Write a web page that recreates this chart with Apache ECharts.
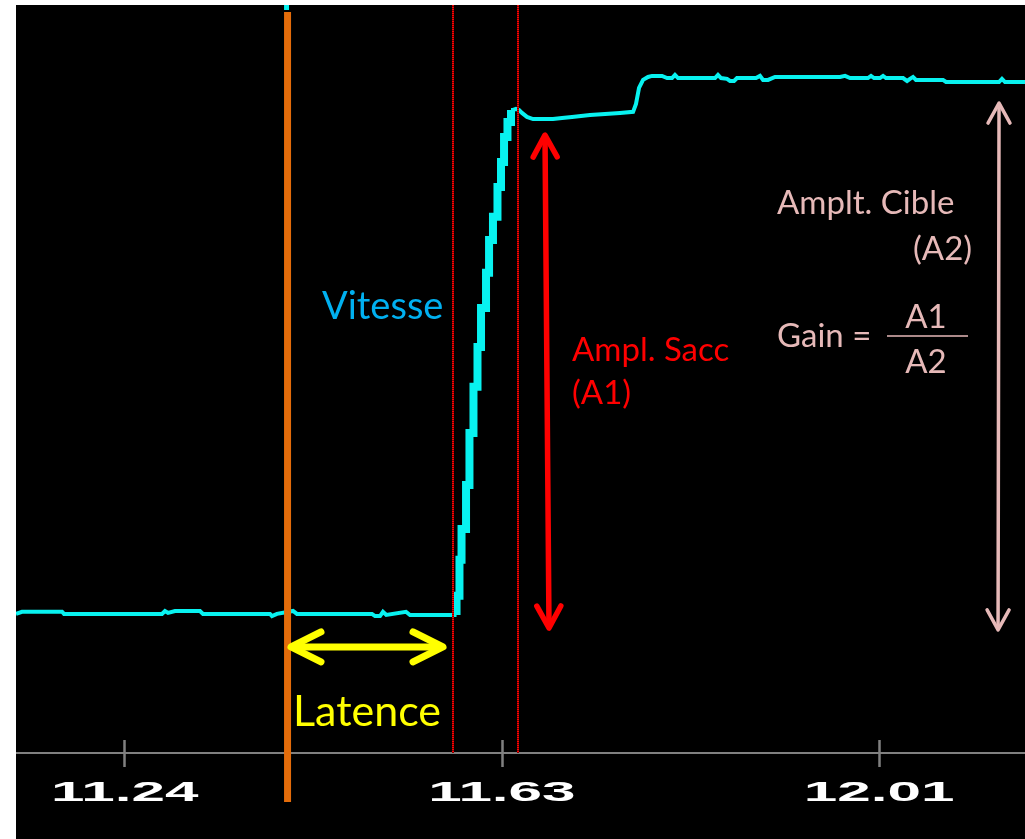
<!DOCTYPE html>
<html>
<head>
<meta charset="utf-8">
<title>Saccade : latence, amplitude et gain</title>
<script src="https://cdn.jsdelivr.net/npm/echarts@6/dist/echarts.min.js"></script>
<style>
  html, body { margin: 0; padding: 0; background: #ffffff; width: 1025px; height: 839px; overflow: hidden; }
  #chart { position: absolute; left: 16px; top: 5px; width: 1009px; height: 834px; background: #000000; }
</style>
</head>
<body>
<div id="chart"></div>
<script>
// Time axis (s) and tick labels
const timeMin = 11.129;
const timeMax = 12.159;
const tickValues = [11.24, 11.625, 12.01];
const tickLabels = ['11.24', '11.63', '12.01'];

// Eye position (deg) range shown
const posMin = -5.22;
const posMax = 22.85;

// Fixation before the saccade: time (s) / position (deg)
const fixationTime = [
  11.1290, 11.1351, 11.1760, 11.1780, 11.2780, 11.2811, 11.2842, 11.2913, 11.3046, 11.3066,
  11.3097, 11.3168, 11.3199, 11.3883, 11.3903, 11.3954, 11.4118, 11.4158, 11.4924, 11.4955,
  11.5006, 11.5036, 11.5070, 11.5271, 11.5312, 11.5787
];
const fixationPos = [
  0.00, 0.08, 0.08, 0.00, 0.00, 0.11, 0.04, 0.11, 0.11, 0.04,
  0.11, 0.11, 0.00, 0.00, -0.08, 0.00, 0.11, 0.00, 0.00, -0.08,
  -0.08, 0.08, -0.04, 0.08, -0.04, -0.04
];

// Saccade (sampled steps): time (s) / position (deg)
const saccadeTime = [
  11.5787, 11.5787, 11.5817, 11.5817, 11.5838, 11.5838, 11.5884, 11.5884, 11.5919, 11.5919,
  11.5960, 11.5960, 11.6001, 11.6001, 11.6037, 11.6037, 11.6088, 11.6088, 11.6119, 11.6119,
  11.6159, 11.6159, 11.6205, 11.6205, 11.6241, 11.6241, 11.6272, 11.6272, 11.6307, 11.6307,
  11.6343, 11.6343
];
const saccadePos = [
  -0.04, 0.68, 0.68, 2.03, 2.03, 3.19, 3.19, 4.84, 4.84, 6.79,
  6.79, 8.52, 8.52, 10.02, 10.02, 11.48, 11.48, 12.80, 12.80, 14.03,
  14.03, 14.90, 14.90, 16.02, 16.02, 16.96, 16.96, 17.90, 17.90, 18.46,
  18.46, 18.91
];

// After the saccade (corrective step and target fixation): time (s) / position (deg)
const afterTime = [
  11.6343, 11.6364, 11.6394, 11.6425,
  11.6455, 11.6506, 11.6568, 11.6772, 11.6864, 11.6966, 11.7149, 11.7303, 11.7456, 11.7589,
  11.7619, 11.7650, 11.7691, 11.7742, 11.7783, 11.7885, 11.7936, 11.7987, 11.8017, 11.8048,
  11.8426, 11.8456, 11.8487, 11.8548, 11.8579, 11.8620, 11.8650, 11.8844, 11.8885, 11.8916,
  11.8967, 11.9038, 11.9702, 11.9753, 11.9804, 11.9987, 12.0018, 12.0049, 12.0110, 12.0141,
  12.0171, 12.0345, 12.0386, 12.0416, 12.0447, 12.0477, 12.0753, 12.0784, 12.1325, 12.1355,
  12.1386, 12.1590
];
const afterPos = [
  18.91, 18.91, 18.95, 18.91,
  18.80, 18.65, 18.57, 18.57, 18.61, 18.65, 18.72, 18.76, 18.80, 18.84,
  19.14, 19.74, 20.04, 20.15, 20.19, 20.19, 20.11, 20.11, 20.23, 20.11,
  20.11, 20.23, 20.11, 20.08, 20.00, 20.00, 20.11, 20.11, 20.19, 20.04,
  20.04, 20.15, 20.15, 20.19, 20.11, 20.11, 20.19, 20.11, 20.11, 20.19,
  20.11, 20.11, 20.00, 20.08, 20.15, 20.04, 20.04, 19.96, 19.96, 20.08,
  19.96, 19.96
];

// Event times (s)
const stimulusTime = [11.4062];
const saccadeMarks = [11.5751, 11.6415];

// Double arrows: [t1, pos1, t2, pos2]
const latencyArrow = [11.4097, -1.24, 11.5649, -1.24];
const saccadeArrow = [11.6731, -0.53, 11.6690, 17.97];
const targetArrow = [12.1315, -0.60, 12.1325, 19.17];

const COL_TRACE = '#08f2f0';
const COL_STIM = '#e46c0a';
const COL_MARK = '#ff0000';
const COL_MARK_DARK = '#7a0000';
const COL_A1 = '#ff0000';
const COL_A2 = '#e6b9b8';
const COL_LAT = '#ffff00';
const COL_VIT = '#00b0f0';
const TEXT_FONT = 'Lato, "Open Sans", sans-serif';

const chart = echarts.init(document.getElementById('chart'), null, { renderer: 'canvas' });

function pairs(xs, ys) {
  return xs.map(function (t, i) { return [t, ys[i]]; });
}

function traceSeries(name, xs, ys, width) {
  return {
    name: name,
    type: 'line',
    data: pairs(xs, ys),
    showSymbol: false,
    symbol: 'none',
    sampling: null,
    lineStyle: { color: COL_TRACE, width: width, join: 'miter', cap: 'butt' },
    z: 2,
    silent: true
  };
}

function doubleArrow(name, pts, color, width, headLen, headHalf) {
  return {
    name: name,
    type: 'custom',
    silent: true,
    clip: false,
    z: 5,
    data: [pts],
    encode: { x: [0, 2], y: [1, 3] },
    renderItem: function (params, api) {
      const a = api.coord([api.value(0), api.value(1)]);
      const b = api.coord([api.value(2), api.value(3)]);
      const dx = b[0] - a[0], dy = b[1] - a[1];
      const len = Math.sqrt(dx * dx + dy * dy);
      const ux = dx / len, uy = dy / len;
      const nx = -uy, ny = ux;
      const head = function (p, s) {
        return [
          [p[0] + s * ux * headLen + nx * headHalf, p[1] + s * uy * headLen + ny * headHalf],
          [p[0], p[1]],
          [p[0] + s * ux * headLen - nx * headHalf, p[1] + s * uy * headLen - ny * headHalf]
        ];
      };
      const st = { stroke: color, lineWidth: width, fill: null, lineCap: 'round', lineJoin: 'round' };
      const inset = width * 0.5;
      return {
        type: 'group',
        children: [
          { type: 'line', shape: { x1: a[0] + ux * inset, y1: a[1] + uy * inset, x2: b[0] - ux * inset, y2: b[1] - uy * inset }, style: st },
          { type: 'polyline', shape: { points: head(a, 1) }, style: st },
          { type: 'polyline', shape: { points: head(b, -1) }, style: st }
        ]
      };
    }
  };
}

function txt(text, x, y, color, size, align) {
  return {
    type: 'text', x: x, y: y, silent: true, z: 10,
    style: {
      text: text, fill: color, font: size + 'px ' + TEXT_FONT,
      align: align || 'left', verticalAlign: 'middle',
      textAlign: align || 'left', textVerticalAlign: 'middle'
    }
  };
}

const option = {
  backgroundColor: '#000000',
  animation: false,
  grid: { left: 0, right: 0, top: 0, bottom: 86, containLabel: false, outerBoundsMode: 'none' },
  xAxis: [
    {
      type: 'value', min: timeMin, max: timeMax, position: 'bottom',
      axisLine: { show: true, onZero: false, lineStyle: { color: '#808080', width: 2 } },
      axisTick: { show: true, inside: false, length: 14, customValues: tickValues, lineStyle: { color: '#808080', width: 2.5 } },
      axisLabel: { show: false },
      splitLine: { show: false }
    },
    {
      type: 'value', min: timeMin, max: timeMax, position: 'bottom', offset: 0,
      axisLine: { show: false, onZero: false },
      axisTick: { show: true, inside: true, length: 13, customValues: tickValues, lineStyle: { color: '#808080', width: 2.5 } },
      axisLabel: { show: false },
      splitLine: { show: false }
    }
  ],
  yAxis: { type: 'value', min: posMin, max: posMax, show: false, splitLine: { show: false } },
  series: [
    traceSeries('Fixation', fixationTime, fixationPos, 4),
    traceSeries('Saccade', saccadeTime, saccadePos, 8),
    traceSeries('Cible', afterTime, afterPos, 4),
    {
      name: 'Bornes saccade',
      type: 'custom',
      silent: true,
      z: 3,
      data: saccadeMarks.map(function (t) { return [t, 0]; }),
      renderItem: function (params, api) {
        const cs = params.coordSys;
        const x = Math.round(api.coord([api.value(0), 0])[0]);
        return {
          type: 'group',
          children: [
            { type: 'rect', shape: { x: x - 1, y: cs.y, width: 2, height: cs.height }, style: { fill: COL_MARK_DARK } },
            { type: 'line', shape: { x1: x, y1: cs.y, x2: x, y2: cs.y + cs.height }, style: { stroke: COL_MARK, lineWidth: 2, lineDash: [1, 1] } }
          ]
        };
      }
    },
    {
      name: 'Stimulus',
      type: 'custom',
      silent: true,
      clip: false,
      z: 4,
      data: stimulusTime.map(function (t) { return [t, 0]; }),
      renderItem: function (params, api) {
        const cs = params.coordSys;
        const x = api.coord([api.value(0), 0])[0];
        return {
          type: 'group',
          children: [
            { type: 'line', shape: { x1: x, y1: cs.y + 7, x2: x, y2: cs.y + cs.height + 49 }, style: { stroke: COL_STIM, lineWidth: 7 } },
            { type: 'rect', shape: { x: x - 3.5, y: cs.y, width: 5, height: 5 }, style: { fill: COL_TRACE } }
          ]
        };
      }
    },
    doubleArrow('Latence', latencyArrow, COL_LAT, 7, 30, 15),
    doubleArrow('A1', saccadeArrow, COL_A1, 5.5, 22, 12),
    doubleArrow('A2', targetArrow, COL_A2, 3.5, 20, 11),
    {
      name: 'Graduations',
      type: 'custom',
      silent: true,
      clip: false,
      z: 6,
      data: tickValues.map(function (t, i) { return [t, i]; }),
      encode: { x: 0 },
      renderItem: function (params, api) {
        const cs = params.coordSys;
        const x = api.coord([api.value(0), posMin])[0];
        return {
          type: 'text',
          x: x, y: cs.y + cs.height + 40,
          scaleX: 2.15, scaleY: 1,
          style: {
            text: tickLabels[params.dataIndex], fill: '#ffffff',
            font: 'bold 28px "Liberation Sans", Arial, sans-serif',
            align: 'center', verticalAlign: 'middle',
            textAlign: 'center', textVerticalAlign: 'middle'
          }
        };
      }
    }
  ],
  graphic: {
    elements: [
      txt('Vitesse', 306, 302, COL_VIT, 38),
      txt('Ampl. Sacc', 556, 345, COL_A1, 33),
      txt('(A1)', 556, 388, COL_A1, 33),
      txt('Amplt. Cible', 761, 198, COL_A2, 33),
      txt('(A2)', 897, 244, COL_A2, 33),
      txt('Gain =', 761, 331, COL_A2, 33),
      txt('A1', 910, 312, COL_A2, 33, 'center'),
      { type: 'line', silent: true, z: 10, shape: { x1: 871, y1: 331, x2: 952, y2: 331 }, style: { stroke: COL_A2, lineWidth: 1.5 } },
      txt('A2', 910, 357, COL_A2, 33, 'center'),
      txt('Latence', 277, 707, COL_LAT, 43)
    ]
  }
};

chart.setOption(option);
</script>
</body>
</html>
